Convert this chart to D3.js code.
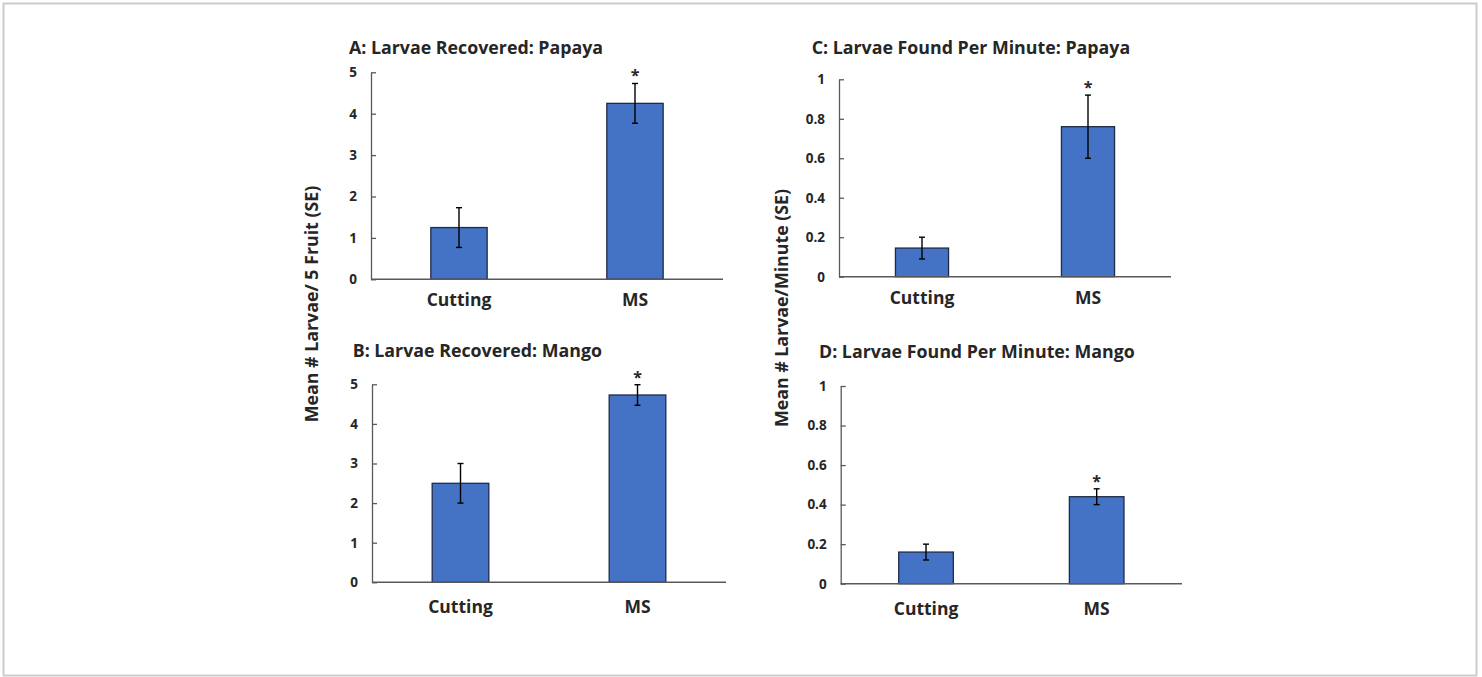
<!DOCTYPE html>
<meta charset="utf-8">
<style>
  body { margin: 0; background: #fff; }
  text { font-family: "Open Sans", Lato, sans-serif; font-weight: 700; fill: #262626; }
</style>
<svg width="1482" height="677"></svg>
<script src="https://d3js.org/d3.v7.min.js"></script>
<script>
  // values
  var categories = ['Cutting', 'MS']
  var significant = [false, true]

  var titles = ['A: Larvae Recovered: Papaya', 'B: Larvae Recovered: Mango',
    'C: Larvae Found Per Minute: Papaya', 'D: Larvae Found Per Minute: Mango']

  var meanA = [1.25, 4.25], seA = [0.48, 0.48]
  var meanB = [2.5, 4.73], seB = [0.5, 0.26]
  var meanC = [0.145, 0.76], seC = [0.055, 0.16]
  var meanD = [0.16, 0.44], seD = [0.04, 0.04]

  var countTicks = [0, 1, 2, 3, 4, 5]
  var rateTicks = [0, 0.2, 0.4, 0.6, 0.8, 1]

  var yLabelLeft = 'Mean # Larvae/ 5 Fruit (SE)'
  var yLabelRight = 'Mean # Larvae/Minute (SE)'

  var svg = d3.select('svg')

  // light frame round the picture
  svg.append('rect')
    .attr('x', 3.5).attr('y', 3.5)
    .attr('width', 1473).attr('height', 672)
    .attr('fill', 'none')
    .attr('stroke', '#cccccc')
    .attr('stroke-width', 2)

  // panel boxes (axis extents in pixels)
  var panels = [
    { title: titles[0], mean: meanA, se: seA, ticks: countTicks, max: 5, x0: 371, x1: 723, top: 72.3, bottom: 279.3, labelGap: 27 },
    { title: titles[1], mean: meanB, se: seB, ticks: countTicks, max: 5, x0: 372, x1: 726, top: 384.3, bottom: 582.3, labelGap: 31 },
    { title: titles[2], mean: meanC, se: seC, ticks: rateTicks, max: 1, x0: 839, x1: 1171, top: 79.3, bottom: 276.7, labelGap: 27 },
    { title: titles[3], mean: meanD, se: seD, ticks: rateTicks, max: 1, x0: 840.7, x1: 1182, top: 386, bottom: 583.7, labelGap: 31 }
  ]
  var titleX = [349, 352.7, 811.7, 819]
  var titleY = [54, 357, 54, 358]

  panels.forEach(function (p, i) {
    var g = svg.append('g')

    var x = d3.scaleBand()
      .domain(categories)
      .range([p.x0, p.x1])
      .paddingInner(0.68)
      .paddingOuter(0.34)

    var y = d3.scaleLinear()
      .domain([0, p.max])
      .range([p.bottom, p.top])

    g.append('text')
      .attr('x', titleX[i])
      .attr('y', titleY[i])
      .attr('font-size', 17.8)
      .text(p.title)

    // y axis with ticks pointing inwards
    var yAxis = g.append('g')
      .attr('transform', 'translate(' + p.x0 + ',0)')
      .call(d3.axisLeft(y)
        .tickValues(p.ticks)
        .tickSizeInner(-5)
        .tickSizeOuter(0)
        .tickPadding(14)
        .tickFormat(d3.format('~g')))
    yAxis.selectAll('path, line').attr('stroke', '#595959').attr('stroke-width', 1.3)
    yAxis.selectAll('text')
      .attr('font-size', 13.5)
      .attr('font-family', '"Open Sans", sans-serif')
      .attr('font-weight', 700)
      .attr('fill', '#262626')

    var rows = categories.map(function (c, j) {
      return { cat: c, mean: p.mean[j], se: p.se[j], sig: significant[j] }
    })

    g.selectAll('rect.bar')
      .data(rows)
      .enter().append('rect')
      .attr('class', 'bar')
      .attr('x', d => x(d.cat))
      .attr('width', x.bandwidth())
      .attr('y', d => y(d.mean))
      .attr('height', d => y(0) - y(d.mean))
      .attr('fill', '#4472c4')
      .attr('stroke', '#1e2c48')
      .attr('stroke-width', 1.3)

    // x axis baseline, no ticks
    g.append('line')
      .attr('x1', p.x0).attr('x2', p.x1)
      .attr('y1', y(0)).attr('y2', y(0))
      .attr('stroke', '#595959')
      .attr('stroke-width', 1.5)

    // error bars
    var err = g.selectAll('g.err')
      .data(rows)
      .enter().append('g')
      .attr('class', 'err')
      .attr('stroke', '#000')
      .attr('stroke-width', 1.4)
    err.append('line')
      .attr('x1', d => x(d.cat) + x.bandwidth() / 2)
      .attr('x2', d => x(d.cat) + x.bandwidth() / 2)
      .attr('y1', d => y(d.mean - d.se))
      .attr('y2', d => y(d.mean + d.se))
    err.append('line')
      .attr('x1', d => x(d.cat) + x.bandwidth() / 2 - 3)
      .attr('x2', d => x(d.cat) + x.bandwidth() / 2 + 3)
      .attr('y1', d => y(d.mean + d.se))
      .attr('y2', d => y(d.mean + d.se))
    err.append('line')
      .attr('x1', d => x(d.cat) + x.bandwidth() / 2 - 3)
      .attr('x2', d => x(d.cat) + x.bandwidth() / 2 + 3)
      .attr('y1', d => y(d.mean - d.se))
      .attr('y2', d => y(d.mean - d.se))

    // significance stars
    g.selectAll('text.star')
      .data(rows.filter(d => d.sig))
      .enter().append('text')
      .attr('class', 'star')
      .attr('x', d => x(d.cat) + x.bandwidth() / 2)
      .attr('y', d => y(d.mean + d.se) - 2)
      .attr('text-anchor', 'middle')
      .attr('font-size', 16)
      .text('*')

    // category labels
    g.selectAll('text.cat')
      .data(categories)
      .enter().append('text')
      .attr('class', 'cat')
      .attr('x', d => x(d) + x.bandwidth() / 2)
      .attr('y', y(0) + p.labelGap)
      .attr('text-anchor', 'middle')
      .attr('font-size', 17.5)
      .text(d => d)
  })

  // shared y axis titles
  svg.append('text')
    .attr('transform', 'translate(318,304) rotate(-90)')
    .attr('text-anchor', 'middle')
    .attr('font-size', 17.8)
    .text(yLabelLeft)

  svg.append('text')
    .attr('transform', 'translate(788,308) rotate(-90)')
    .attr('text-anchor', 'middle')
    .attr('font-size', 17.8)
    .text(yLabelRight)
</script>
